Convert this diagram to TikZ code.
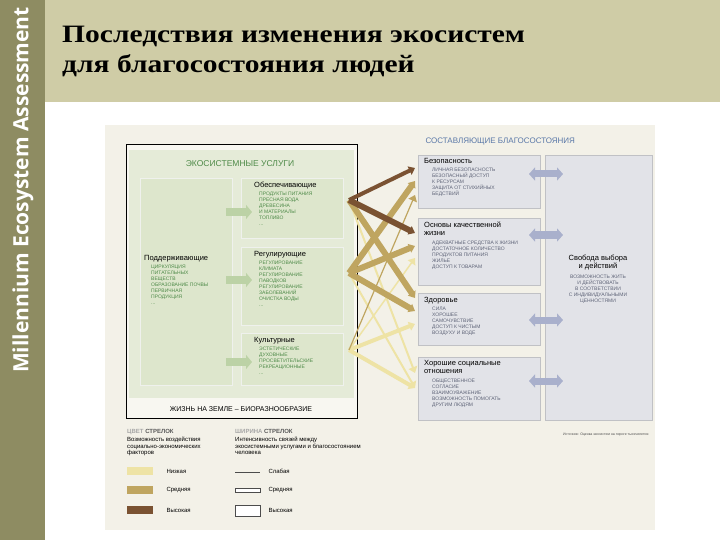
\documentclass[tikz,border=0pt]{standalone}
\usepackage{fontspec}
\setmainfont{Liberation Sans}
\newfontfamily\titlefont{Liberation Serif}
\newfontfamily\barfont{Open Sans}
\usetikzlibrary{arrows.meta}
\definecolor{bar}{HTML}{8E8C62}
\definecolor{band}{HTML}{CFCCA6}
\definecolor{panel}{HTML}{F3F1E8}
\definecolor{gpanel}{HTML}{E5EBD8}
\definecolor{gbox}{HTML}{DDE6CC}
\definecolor{garr}{HTML}{BCD2A6}
\definecolor{gtxt}{HTML}{4E8A48}
\definecolor{bbox}{HTML}{E2E3E8}
\definecolor{btxt}{HTML}{5F6478}
\definecolor{btitle}{HTML}{5A78A8}
\definecolor{dblarr}{HTML}{A9B0CC}
\definecolor{cdark}{HTML}{7A5232}
\definecolor{cmed}{HTML}{BFA560}
\definecolor{clight}{HTML}{EEE3A5}
\tikzset{
 small/.style={font=\fontsize{5}{6}\selectfont,align=left,inner sep=0pt,anchor=north west},
 head/.style={font=\fontsize{7.5}{8}\selectfont,align=left,inner sep=0pt,anchor=north west},
 gitems/.style={small,text=gtxt},
 bitems/.style={small,text=btxt},
 gb/.style={fill=gbox,draw=gbox!80!black!20},
 bb/.style={fill=bbox,draw=bbox!85!black},
 flow/.style={-{Triangle[length=6pt,width=9pt]}},
 garrow/.style={garr,line width=8pt,-{Triangle[length=6pt,width=14pt]}},
 darrow/.style={dblarr,line width=7pt,{Triangle[length=6pt,width=13pt]}-{Triangle[length=6pt,width=13pt]}},
}
\begin{document}
\begin{tikzpicture}[x=1pt,y=-1pt]
\useasboundingbox (0,0) rectangle (720,540);
\fill[white] (0,0) rectangle (720,540);
\fill[band] (45,0) rectangle (720,102);
\fill[bar] (0,0) rectangle (45,540);
\node[rotate=90,text=white,font=\barfont\bfseries\fontsize{21}{21}\selectfont] (brand) at (23,190) {Millennium Ecosystem Assessment};
\node[anchor=north west,align=left,font=\titlefont\bfseries\fontsize{25}{30}\selectfont,inner sep=0pt,xscale=1.18] (title) at (62,26) {Последствия изменения экосистем\\для благосостояния людей};
\fill[panel] (105,125) rectangle (655,530);
% left frame
\draw[black,line width=1pt,fill=white!40!panel] (126,145) rectangle (357,418);
\fill[gpanel] (129,150) rectangle (354,398);
\node[font=\fontsize{8.5}{9}\selectfont,text=gtxt] (es) at (240,164) {ЭКОСИСТЕМНЫЕ УСЛУГИ};
\draw[gb] (140,178) rectangle (232,385);
\draw[gb] (241,178) rectangle (343,238);
\draw[gb] (241,247) rectangle (343,325);
\draw[gb] (241,333) rectangle (343,385);
\node[head] (sup) at (144,255) {Поддерживающие};
\node[gitems] (supi) at (151,265) {ЦИРКУЛЯЦИЯ\\ПИТАТЕЛЬНЫХ\\ВЕЩЕСТВ\\ОБРАЗОВАНИЕ ПОЧВЫ\\ПЕРВИЧНАЯ\\ПРОДУКЦИЯ\\...};
\node[head] (pro) at (254,182) {Обеспечивающие};
\node[gitems] (proi) at (259,192) {ПРОДУКТЫ ПИТАНИЯ\\ПРЕСНАЯ ВОДА\\ДРЕВЕСИНА\\И МАТЕРИАЛЫ\\ТОПЛИВО\\...};
\node[head] (reg) at (254,251) {Регулирующие};
\node[gitems] (regi) at (259,261) {РЕГУЛИРОВАНИЕ\\КЛИМАТА\\РЕГУЛИРОВАНИЕ\\ПАВОДКОВ\\РЕГУЛИРОВАНИЕ\\ЗАБОЛЕВАНИЙ\\ОЧИСТКА ВОДЫ\\...};
\node[head] (cul) at (254,337) {Культурные};
\node[gitems] (culi) at (259,347) {ЭСТЕТИЧЕСКИЕ\\ДУХОВНЫЕ\\ПРОСВЕТИТЕЛЬСКИЕ\\РЕКРЕАЦИОННЫЕ\\...};
\coordinate (ga1s) at (226,212); \coordinate (ga1e) at (252,212);
\coordinate (ga2s) at (226,280); \coordinate (ga2e) at (252,280);
\coordinate (ga3s) at (226,362); \coordinate (ga3e) at (252,362);
\draw[garrow] (ga1s) -- (ga1e);
\draw[garrow] (ga2s) -- (ga2e);
\draw[garrow] (ga3s) -- (ga3e);
\node[font=\fontsize{7}{8}\selectfont] (life) at (241,409) {ЖИЗНЬ НА ЗЕМЛЕ – БИОРАЗНООБРАЗИЕ};
% right
\node[font=\fontsize{8}{9}\selectfont,text=btitle,anchor=west] (cw) at (422,142) {СОСТАВЛЯЮЩИЕ БЛАГОСОСТОЯНИЯ};
\draw[bb] (545,155) rectangle (652,420);
\draw[bb] (418,155) rectangle (540,208);
\draw[bb] (418,218) rectangle (540,285);
\draw[bb] (418,293) rectangle (540,345);
\draw[bb] (418,357) rectangle (540,420);
\node[head] (sec) at (424,158) {Безопасность};
\node[bitems] (seci) at (432,168) {ЛИЧНАЯ БЕЗОПАСНОСТЬ\\БЕЗОПАСНЫЙ ДОСТУП\\К РЕСУРСАМ\\ЗАЩИТА ОТ СТИХИЙНЫХ\\БЕДСТВИЙ};
\node[head] (bas) at (424,222) {Основы качественной\\жизни};
\node[bitems] (basi) at (432,241) {АДЕКВАТНЫЕ СРЕДСТВА К ЖИЗНИ\\ДОСТАТОЧНОЕ КОЛИЧЕСТВО\\ПРОДУКТОВ ПИТАНИЯ\\ЖИЛЬЕ\\ДОСТУП К ТОВАРАМ};
\node[head] (hea) at (424,297) {Здоровье};
\node[bitems] (heai) at (432,307) {СИЛА\\ХОРОШЕЕ\\САМОЧУВСТВИЕ\\ДОСТУП К ЧИСТЫМ\\ВОЗДУХУ И ВОДЕ};
\node[head] (soc) at (424,360) {Хорошие социальные\\отношения};
\node[bitems] (soci) at (432,379) {ОБЩЕСТВЕННОЕ\\СОГЛАСИЕ\\ВЗАИМОУВАЖЕНИЕ\\ВОЗМОЖНОСТЬ ПОМОГАТЬ\\ДРУГИМ ЛЮДЯМ};
\node[font=\fontsize{7.5}{8}\selectfont,align=center] (fre) at (598,262) {Свобода выбора\\и действий};
\node[font=\fontsize{5}{6}\selectfont,align=center,text=btxt,anchor=north] (frei) at (598,271) {ВОЗМОЖНОСТЬ ЖИТЬ\\И ДЕЙСТВОВАТЬ\\В СООТВЕТСТВИИ\\С ИНДИВИДУАЛЬНЫМИ\\ЦЕННОСТЯМИ};
\coordinate (d1s) at (529,174); \coordinate (d1e) at (563,174);
\coordinate (d2s) at (529,235); \coordinate (d2e) at (563,235);
\coordinate (d3s) at (529,320); \coordinate (d3e) at (563,320);
\coordinate (d4s) at (529,381); \coordinate (d4e) at (563,381);
\draw[darrow] (d1s) -- (d1e);
\draw[darrow] (d2s) -- (d2e);
\draw[darrow] (d3s) -- (d3e);
\draw[darrow] (d4s) -- (d4e);
% flow arrows
\coordinate (P) at (349,200); \coordinate (R) at (349,273); \coordinate (C) at (349,350);
\coordinate (s1) at (415,168); \coordinate (s2) at (415,181); \coordinate (s3) at (415,195);
\coordinate (b1) at (415,233); \coordinate (b2) at (415,246); \coordinate (b3) at (415,258);
\coordinate (h1) at (415,298); \coordinate (h2) at (415,311); \coordinate (h3) at (415,324);
\coordinate (o1) at (415,373); \coordinate (o2) at (415,388);
\draw[flow,clight,line width=2pt] (P) -- (o1);
\draw[flow,clight,line width=2pt] (R) -- (o2);
\draw[flow,clight,line width=4pt] (C) -- (h3);
\draw[flow,clight,line width=4pt] (C) -- (o2);
\draw[flow,clight,line width=1.5pt] (C) -- (b3);
\draw[flow,cmed,line width=1.2pt] (C) -- (s3);
\draw[flow,cmed,line width=6pt] (P) -- (h1);
\draw[flow,cmed,line width=6pt] (R) -- (s2);
\draw[flow,cmed,line width=6pt] (R) -- (b2);
\draw[flow,cmed,line width=6pt] (R) -- (h2);
\draw[flow,cdark,line width=4pt] (P) -- (s1);
\draw[flow,cdark,line width=6pt] (P) -- (b1);
% legend
\node[font=\fontsize{6}{7}\selectfont\bfseries,anchor=north west,inner sep=0pt] (lc) at (127,429) {\textcolor{gray!70}{ЦВЕТ} \textcolor{black!65}{СТРЕЛОК}};
\node[small,font=\fontsize{6}{6.5}\selectfont] (lct) at (127,437) {Возможность воздействия\\социально-экономических\\факторов};
\node[font=\fontsize{6}{7}\selectfont\bfseries,anchor=north west,inner sep=0pt] (lw) at (235,429) {\textcolor{gray!70}{ШИРИНА} \textcolor{black!65}{СТРЕЛОК}};
\node[small,font=\fontsize{6}{6.5}\selectfont] (lwt) at (235,437) {Интенсивность связей между\\экосистемными услугами и благосостоянием\\человека};
\fill[clight] (127,467) rectangle (153,475);
\fill[cmed] (127,486) rectangle (153,494);
\fill[cdark] (127,506) rectangle (153,514);
\node[font=\fontsize{6}{7}\selectfont,anchor=west] (l1) at (163,471) {Низкая};
\node[font=\fontsize{6}{7}\selectfont,anchor=west] (l2) at (163,490) {Средняя};
\node[font=\fontsize{6}{7}\selectfont,anchor=west] (l3) at (163,510) {Высокая};
\draw[black!70,line width=0.4pt] (235,472) -- (260,472);
\draw[black!70,line width=0.4pt,fill=white] (235,488) rectangle (260,492);
\draw[black!70,line width=0.4pt,fill=white] (235,505) rectangle (260,516);
\node[font=\fontsize{6}{7}\selectfont,anchor=west] (w1) at (265,471) {Слабая};
\node[font=\fontsize{6}{7}\selectfont,anchor=west] (w2) at (265,490) {Средняя};
\node[font=\fontsize{6}{7}\selectfont,anchor=west] (w3) at (265,510) {Высокая};
\node[font=\fontsize{3.5}{4}\selectfont,anchor=east,text=black!70] (src) at (652,435) {Источник: Оценка экосистем на пороге тысячелетия};
\end{tikzpicture}
\end{document}
